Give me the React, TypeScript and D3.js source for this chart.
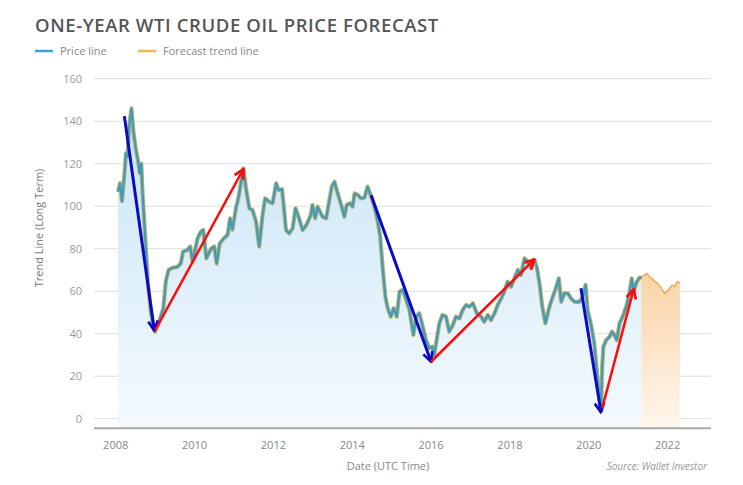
import React, { useEffect, useRef } from 'react';
import * as d3 from 'd3';

// WTI monthly-ish price
const priceYears = [
  2008.06, 2008.11, 2008.16, 2008.22, 2008.26, 2008.3, 2008.34, 2008.4, 2008.45, 2008.51,
  2008.57, 2008.61, 2008.65, 2008.68, 2008.77, 2008.83, 2008.89, 2008.96, 2009.0, 2009.1,
  2009.21, 2009.27, 2009.34, 2009.44, 2009.57, 2009.65, 2009.71, 2009.82, 2009.89, 2009.95,
  2010.02, 2010.08, 2010.16, 2010.22, 2010.3, 2010.42, 2010.5, 2010.56, 2010.64, 2010.75,
  2010.84, 2010.9, 2010.96, 2011.05, 2011.12, 2011.18, 2011.24, 2011.3, 2011.39, 2011.47,
  2011.56, 2011.64, 2011.72, 2011.79, 2011.9, 2011.98, 2012.07, 2012.13, 2012.22, 2012.28,
  2012.32, 2012.4, 2012.49, 2012.56, 2012.64, 2012.74, 2012.84, 2012.95, 2012.99, 2013.06,
  2013.12, 2013.18, 2013.25, 2013.34, 2013.42, 2013.48, 2013.55, 2013.63, 2013.72, 2013.8,
  2013.86, 2013.94, 2014.01, 2014.06, 2014.14, 2014.22, 2014.31, 2014.39, 2014.48, 2014.56,
  2014.64, 2014.71, 2014.77, 2014.84, 2014.9, 2014.98, 2015.05, 2015.13, 2015.2, 2015.28,
  2015.37, 2015.45, 2015.55, 2015.62, 2015.7, 2015.79, 2015.87, 2015.96, 2016.03, 2016.08,
  2016.14, 2016.21, 2016.29, 2016.38, 2016.46, 2016.55, 2016.63, 2016.72, 2016.8, 2016.89,
  2016.97, 2017.06, 2017.16, 2017.27, 2017.35, 2017.44, 2017.52, 2017.61, 2017.69, 2017.78,
  2017.86, 2017.94, 2018.03, 2018.11, 2018.2, 2018.28, 2018.37, 2018.45, 2018.54, 2018.62,
  2018.68, 2018.75, 2018.82, 2018.9, 2018.98, 2019.07, 2019.15, 2019.24, 2019.3, 2019.38,
  2019.47, 2019.55, 2019.64, 2019.76, 2019.85, 2019.92, 2019.97, 2020.06, 2020.14, 2020.23,
  2020.31, 2020.34, 2020.37, 2020.44, 2020.53, 2020.59, 2020.65, 2020.71, 2020.78, 2020.86,
  2020.95, 2021.03, 2021.09, 2021.14, 2021.2, 2021.27, 2021.33,
];
const priceValues = [
  106.8, 110.8, 102.4, 114.7, 124.9, 123.3, 137.4, 146, 135, 127,
  121, 115.5, 120, 107, 78.6, 61.4, 50.4, 42.5, 41, 45.6,
  52, 64.5, 70, 71, 71.5, 73, 78.6, 79.4, 81, 74,
  80, 85, 88, 88.8, 75.5, 80, 81, 73, 82.5, 85,
  86.5, 94.3, 89, 99, 104.5, 111.5, 117.8, 109, 99, 98.2,
  92.7, 81, 95, 103.7, 102, 101.4, 110.8, 107.6, 108, 96.7,
  88.8, 87.2, 89.6, 99, 95, 88.8, 91.2, 95.9, 100.6, 94.3,
  99.8, 97.4, 95, 94.3, 102.9, 109.2, 111.5, 106, 100.6, 95,
  100.6, 101.4, 99.8, 106, 105.3, 103.7, 104, 109.2, 104.5, 99.8,
  93.5, 85.6, 71.5, 57.4, 52, 48, 52, 48, 59.8, 60.6,
  55.9, 51.2, 39.4, 48, 49.6, 43.3, 37, 33.1, 33.9, 30,
  37, 44.9, 48.8, 48, 41, 44, 48, 47.2, 51.2, 53.5,
  52.7, 54.3, 49.6, 48, 45.6, 48.8, 46.4, 49.6, 53.5, 56.6,
  59.8, 64.5, 62.1, 66, 70, 67.6, 75.5, 73.9, 70.8, 74.7,
  71.5, 63.7, 52.7, 44.9, 51.2, 56.6, 60.6, 66, 55, 59,
  59, 56.6, 55, 55, 57.4, 63, 51.2, 44, 35.5, 16.7,
  4, 24.5, 33.9, 37, 38.6, 41, 39.4, 37, 44.9, 48,
  52.7, 59, 66, 59.8, 63.7, 66, 66.8,
];

const forecastYears = [
  2021.33, 2021.41, 2021.48, 2021.54, 2021.61, 2021.67, 2021.75, 2021.84,
  2021.92, 2021.98, 2022.05, 2022.12, 2022.18, 2022.24, 2022.31,
];
const forecastValues = [
  66.8, 67.6, 68.4, 66.8, 66, 64.5, 63.7, 61.4, 59, 59.8, 61.4, 62.9, 62.1, 64.5, 63.7,
];

// trend arrows drawn over the price line
const arrowFromYears = [2008.22, 2009.0, 2014.48, 2016.0, 2019.8, 2020.34];
const arrowFromValues = [142.4, 41.5, 105.2, 26.8, 61.4, 4.9];
const arrowToYears = [2008.98, 2011.24, 2016.0, 2018.62, 2020.31, 2021.14];
const arrowToValues = [41.5, 117.5, 26.8, 75, 3, 61];
const arrowKinds = ['down', 'up', 'down', 'up', 'down', 'up'];

const yTicks = [0, 20, 40, 60, 80, 100, 120, 140, 160];
const xTicks = [2008, 2010, 2012, 2014, 2016, 2018, 2020, 2022];

const WIDTH = 743;
const HEIGHT = 485;
const FONT = "'Open Sans', 'DejaVu Sans', sans-serif";

const App: React.FC = () => {
  const svgRef = useRef<SVGSVGElement>(null);

  useEffect(() => {
    if (!svgRef.current) return;
    const svg = d3.select(svgRef.current);
    svg.selectAll('*').remove();

    const xScale = d3.scaleLinear().domain([2007.45, 2023.1]).range([94, 711]);
    const yScale = d3.scaleLinear().domain([0, 160]).range([418.7, 78.7]);
    const baseY = yScale(0) + 9.5;

    const defs = svg.append('defs');
    const blueGrad = defs.append('linearGradient')
      .attr('id', 'blueFill').attr('x1', 0).attr('y1', 0).attr('x2', 0).attr('y2', 1);
    blueGrad.append('stop').attr('offset', '0%').attr('stop-color', '#c8e4f6');
    blueGrad.append('stop').attr('offset', '100%').attr('stop-color', '#f4fafe');

    const orangeGrad = defs.append('linearGradient')
      .attr('id', 'orangeFill').attr('x1', 0).attr('y1', 0).attr('x2', 0).attr('y2', 1);
    orangeGrad.append('stop').attr('offset', '0%').attr('stop-color', '#f9d3a6');
    orangeGrad.append('stop').attr('offset', '100%').attr('stop-color', '#fff7ee');

    const markerColors: Record<string, string> = { down: '#0a0ac4', up: '#ff0a0a' };
    Object.entries(markerColors).forEach(([kind, color]) => {
      defs.append('marker')
        .attr('id', `head-${kind}`)
        .attr('viewBox', '0 0 10 10')
        .attr('refX', 9)
        .attr('refY', 5)
        .attr('markerWidth', 12)
        .attr('markerHeight', 12)
        .attr('markerUnits', 'userSpaceOnUse')
        .attr('orient', 'auto')
        .append('path')
        .attr('d', 'M1,1 L9,5 L1,9')
        .attr('fill', 'none')
        .attr('stroke', color)
        .attr('stroke-width', 2.2);
    });

    // Title + legend
    svg.append('text')
      .attr('x', 35).attr('y', 32)
      .attr('font-family', FONT)
      .attr('font-size', 18.5)
      .attr('font-weight', 600)
      .attr('letter-spacing', 0.6)
      .attr('fill', '#555')
      .text('ONE-YEAR WTI CRUDE OIL PRICE FORECAST');

    const legendData = [
      { label: 'Price line', color: '#35a6d8', x: 35 },
      { label: 'Forecast trend line', color: '#f5b44e', x: 138 },
    ];
    legendData.forEach(item => {
      svg.append('line')
        .attr('x1', item.x).attr('x2', item.x + 18)
        .attr('y1', 51).attr('y2', 51)
        .attr('stroke', item.color).attr('stroke-width', 2.5);
      svg.append('text')
        .attr('x', item.x + 25).attr('y', 55)
        .attr('font-family', FONT).attr('font-size', 11)
        .attr('fill', '#888')
        .text(item.label);
    });

    // Grid
    const grid = svg.append('g');
    yTicks.forEach(t => {
      grid.append('line')
        .attr('x1', 94).attr('x2', 711)
        .attr('y1', yScale(t)).attr('y2', yScale(t))
        .attr('stroke', '#dedede').attr('stroke-width', 1);
      grid.append('text')
        .attr('x', 82).attr('y', yScale(t) + 4)
        .attr('text-anchor', 'end')
        .attr('font-family', FONT).attr('font-size', 11)
        .attr('fill', '#999')
        .text(t);
    });

    // Areas
    const priceData = priceYears.map((yr, i) => ({ yr, v: priceValues[i] }));
    const forecastData = forecastYears.map((yr, i) => ({ yr, v: forecastValues[i] }));

    const area = d3.area<{ yr: number; v: number }>()
      .x(d => xScale(d.yr))
      .y0(baseY)
      .y1(d => yScale(d.v));

    svg.append('path').datum(priceData)
      .attr('fill', 'url(#blueFill)').attr('d', area);
    svg.append('path').datum(forecastData)
      .attr('fill', 'url(#orangeFill)').attr('d', area);

    // Axis baseline
    svg.append('line')
      .attr('x1', 94).attr('x2', 711)
      .attr('y1', baseY).attr('y2', baseY)
      .attr('stroke', '#a8a8a8').attr('stroke-width', 2);

    xTicks.forEach(t => {
      svg.append('text')
        .attr('x', xScale(t)).attr('y', 449)
        .attr('text-anchor', 'middle')
        .attr('font-family', FONT).attr('font-size', 11)
        .attr('fill', '#888')
        .text(t);
    });

    // Lines
    const line = d3.line<{ yr: number; v: number }>()
      .x(d => xScale(d.yr))
      .y(d => yScale(d.v));

    svg.append('path').datum(priceData)
      .attr('fill', 'none').attr('stroke', '#c9b06a').attr('stroke-width', 4.2)
      .attr('stroke-linejoin', 'round').attr('d', line);
    svg.append('path').datum(priceData)
      .attr('fill', 'none').attr('stroke', '#3d9dbd').attr('stroke-width', 2.3)
      .attr('stroke-linejoin', 'round').attr('d', line);
    svg.append('path').datum(forecastData)
      .attr('fill', 'none').attr('stroke', '#eba64a').attr('stroke-width', 1.3)
      .attr('stroke-linejoin', 'round').attr('d', line);

    // Trend arrows
    arrowKinds.forEach((kind, i) => {
      svg.append('line')
        .attr('x1', xScale(arrowFromYears[i])).attr('y1', yScale(arrowFromValues[i]))
        .attr('x2', xScale(arrowToYears[i])).attr('y2', yScale(arrowToValues[i]))
        .attr('stroke', markerColors[kind])
        .attr('stroke-width', kind === 'down' ? 3 : 2.5)
        .attr('marker-end', `url(#head-${kind})`);
    });

    // Axis titles
    svg.append('text')
      .attr('transform', 'translate(43,228) rotate(-90)')
      .attr('text-anchor', 'middle')
      .attr('font-family', FONT).attr('font-size', 11)
      .attr('fill', '#777')
      .text('Trend Line (Long Term)');

    svg.append('text')
      .attr('x', 388).attr('y', 470)
      .attr('text-anchor', 'middle')
      .attr('font-family', FONT).attr('font-size', 11)
      .attr('fill', '#888')
      .text('Date (UTC Time)');

    svg.append('text')
      .attr('x', 707).attr('y', 470)
      .attr('text-anchor', 'end')
      .attr('font-family', FONT).attr('font-size', 10)
      .attr('font-style', 'italic')
      .attr('fill', '#999')
      .text('Source: Wallet Investor');
  }, []);

  return (
    <svg
      ref={svgRef}
      width={WIDTH}
      height={HEIGHT}
      style={{ position: 'absolute', left: 0, top: 0, background: '#fff' }}
    />
  );
};

export default App;
